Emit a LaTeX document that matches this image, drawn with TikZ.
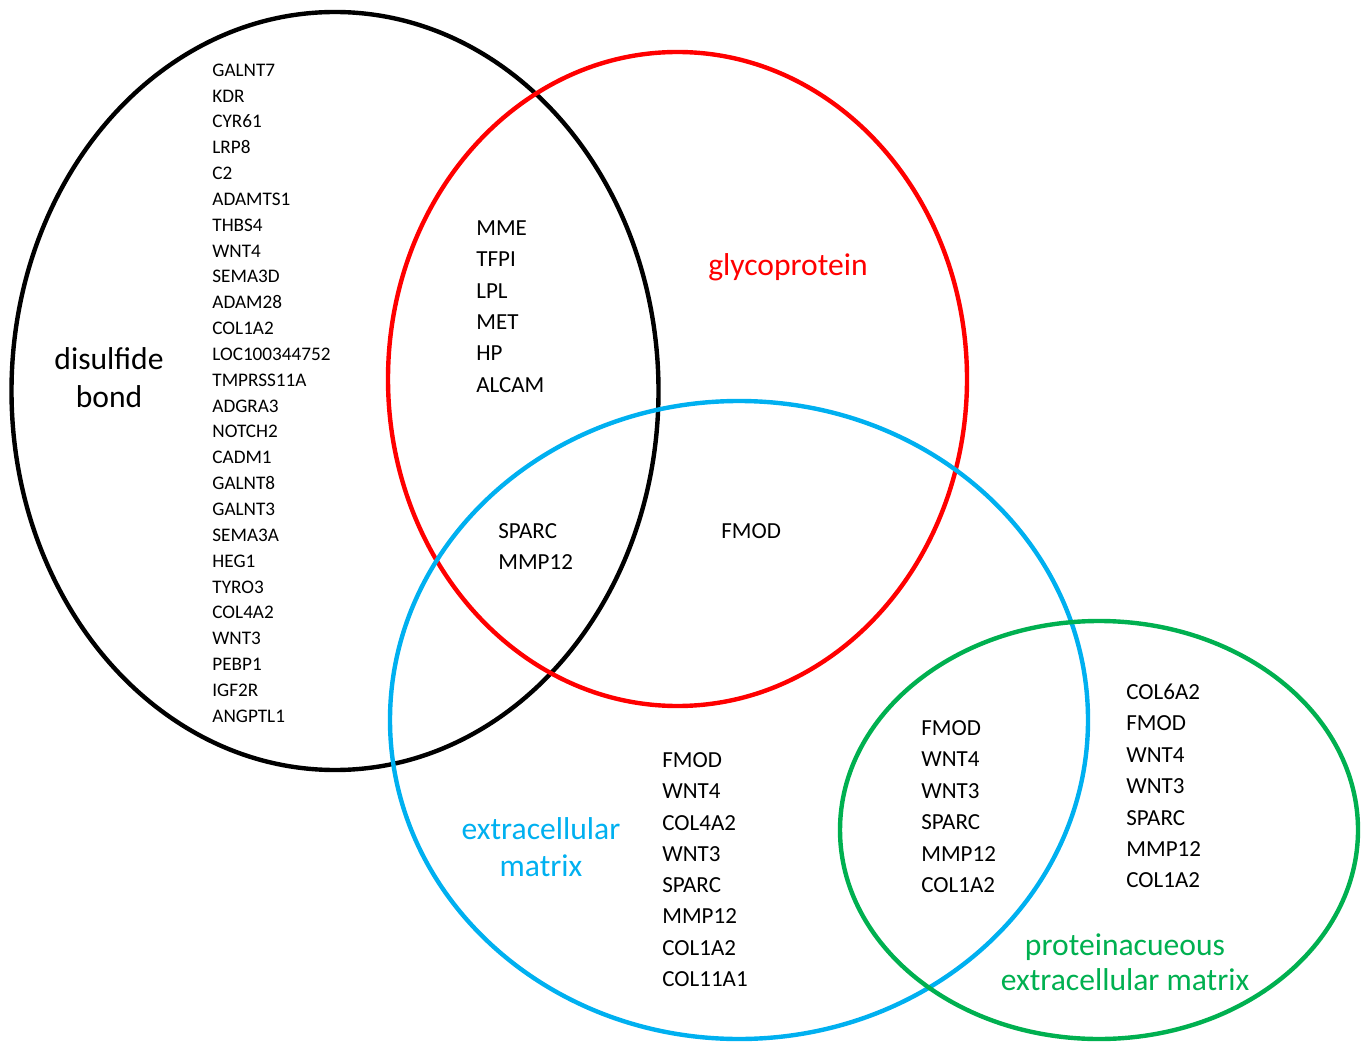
\documentclass[tikz,border=0pt]{standalone}
\usepackage{fontspec}
\setmainfont{Carlito}
\definecolor{vred}{RGB}{255,0,0}
\definecolor{vblue}{RGB}{0,176,240}
\definecolor{vgreen}{RGB}{0,176,80}
\tikzset{
  setline/.style={line width=2.2pt},
  smallgene/.style={anchor=base west, inner sep=0pt, font=\fontsize{9.6}{11}\selectfont},
  biggene/.style={anchor=base west, inner sep=0pt, font=\fontsize{11.5}{13}\selectfont},
  setlabel/.style={anchor=base, inner sep=0pt, font=\fontsize{15.8}{18}\selectfont},
}
\begin{document}
\begin{tikzpicture}[x=0.5pt,y=-0.5pt]
\useasboundingbox (0,0) rectangle (1363,1042);
% ellipses
\draw[setline, black] (335,391) ellipse [x radius=161.75pt, y radius=189.5pt];
\draw[setline, vred] (677.5,379) ellipse [x radius=144.75pt, y radius=163.5pt];
\draw[setline, vblue] (739,720) ellipse [x radius=174.5pt, y radius=159.5pt];
\draw[setline, vgreen] (1099,830) ellipse [x radius=129.5pt, y radius=104.5pt];
% disulfide list
\foreach \g [count=\i from 0] in {GALNT7,KDR,CYR61,LRP8,C2,ADAMTS1,THBS4,WNT4,SEMA3D,ADAM28,COL1A2,LOC100344752,TMPRSS11A,ADGRA3,NOTCH2,CADM1,GALNT8,GALNT3,SEMA3A,HEG1,TYRO3,COL4A2,WNT3,PEBP1,IGF2R,ANGPTL1}
  \node[smallgene] (bk\i) at (212,{76.2+25.84*\i}) {\g};
% black & red
\foreach \g [count=\i from 0] in {MME,TFPI,LPL,MET,HP,ALCAM}
  \node[biggene] (br\i) at (476,{235.4+31.4*\i}) {\g};
% black & red & blue
\foreach \g [count=\i from 0] in {SPARC,MMP12}
  \node[biggene] (brb\i) at (498,{538.4+31.4*\i}) {\g};
% red & blue
\node[biggene] (rb0) at (721,538.4) {FMOD};
% blue only
\foreach \g [count=\i from 0] in {FMOD,WNT4,COL4A2,WNT3,SPARC,MMP12,COL1A2,COL11A1}
  \node[biggene] (bl\i) at (662,{767.4+31.3*\i}) {\g};
% blue & green
\foreach \g [count=\i from 0] in {FMOD,WNT4,WNT3,SPARC,MMP12,COL1A2}
  \node[biggene] (bg\i) at (921,{735.4+31.4*\i}) {\g};
% green only
\foreach \g [count=\i from 0] in {COL6A2,FMOD,WNT4,WNT3,SPARC,MMP12,COL1A2}
  \node[biggene] (gr\i) at (1126,{699.4+31.4*\i}) {\g};
% set labels
\node[setlabel] (lab1a) at (109,370) {disulfide};
\node[setlabel] (lab1b) at (109,408) {bond};
\node[setlabel, text=vred] (lab2) at (788,276) {glycoprotein};
\node[setlabel, text=vblue] (lab3a) at (541,839) {extracellular};
\node[setlabel, text=vblue] (lab3b) at (541,876) {matrix};
\node[setlabel, text=vgreen] (lab4a) at (1125,955) {proteinacueous};
\node[setlabel, text=vgreen] (lab4b) at (1125,990) {extracellular matrix};
\end{tikzpicture}
\end{document}
